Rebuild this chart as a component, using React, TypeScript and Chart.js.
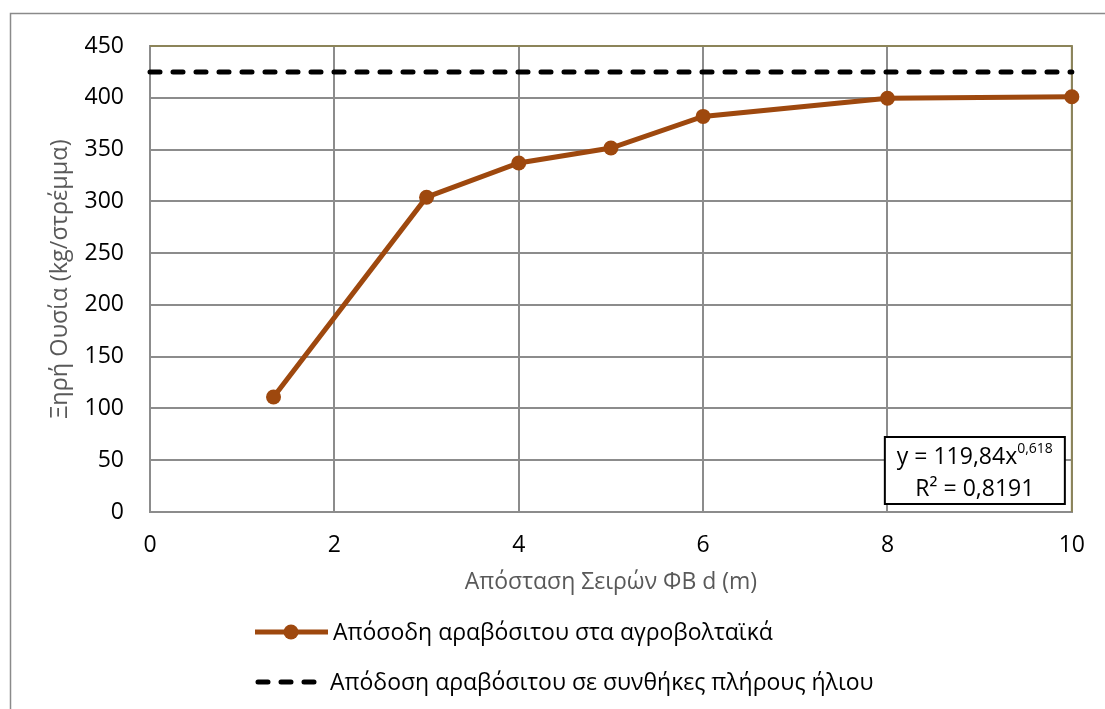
import React, { useEffect, useRef } from "react";
import { Chart, registerables } from "chart.js";

Chart.register(...registerables);

// ---- Data ----
const rowSpacing: number[] = [1.34, 3, 4, 5, 6, 8, 10];
const agrivoltaicYield: number[] = [111, 304, 337, 351.5, 382, 399.5, 401];
const fullSunX: number[] = [0, 10];
const fullSunYield: number[] = [425, 425];

const seriesLabels: string[] = [
  "Απόσοδη αραβόσιτου στα αγροβολταϊκά",
  "Απόδοση αραβόσιτου σε συνθήκες πλήρους ήλιου",
];
const xTitle = "Απόσταση Σειρών ΦΒ d (m)";
const yTitle = "Ξηρή Ουσία (kg/στρέμμα)";
const equationMain = "y = 119,84x";
const equationExp = "0,618";
const rSquared = "R² = 0,8191";

const xMin = 0, xMax = 10, xStep = 2;
const yMin = 0, yMax = 450, yStep = 50;

// ---- Styles ----
const FONT = "'Open Sans', 'Noto Sans', sans-serif";
const BROWN = "#9E480E";
const GRID = "#8c8c8c";
const OLIVE = "#8C8459";
const TITLE_COLOR = "#595959";

const outerBorder = {
  id: "outerBorder",
  beforeDraw(chart: any) {
    const { ctx, width, height } = chart;
    ctx.save();
    ctx.fillStyle = "#fff";
    ctx.fillRect(0, 0, width, height);
    ctx.strokeStyle = "#8a8a8a";
    ctx.lineWidth = 1.5;
    ctx.beginPath();
    ctx.moveTo(10.5, height + 2);
    ctx.lineTo(10.5, 13.5);
    ctx.lineTo(width + 2, 13.5);
    ctx.stroke();
    ctx.restore();
  },
};

const plotBorder = {
  id: "plotBorder",
  beforeDatasetsDraw(chart: any) {
    const { ctx, chartArea } = chart;
    ctx.save();
    ctx.strokeStyle = OLIVE;
    ctx.lineWidth = 2;
    ctx.beginPath();
    ctx.moveTo(chartArea.left, chartArea.top);
    ctx.lineTo(chartArea.right, chartArea.top);
    ctx.lineTo(chartArea.right, chartArea.bottom);
    ctx.stroke();
    ctx.restore();
  },
};

const equationBox = {
  id: "equationBox",
  afterDatasetsDraw(chart: any) {
    const { ctx, chartArea } = chart;
    const right = chartArea.right - 7;
    const left = right - 180;
    const bottom = chartArea.bottom - 8;
    const top = bottom - 67;
    ctx.save();
    ctx.fillStyle = "#fff";
    ctx.fillRect(left, top, right - left, bottom - top);
    ctx.strokeStyle = "#000";
    ctx.lineWidth = 2;
    ctx.strokeRect(left, top, right - left, bottom - top);
    const cx = (left + right) / 2;
    ctx.fillStyle = "#000";
    ctx.textBaseline = "alphabetic";
    ctx.font = `23px ${FONT}`;
    const wMain = ctx.measureText(equationMain).width;
    ctx.font = `14px ${FONT}`;
    const wExp = ctx.measureText(equationExp).width;
    const startX = cx - (wMain + wExp) / 2;
    ctx.font = `23px ${FONT}`;
    ctx.textAlign = "left";
    ctx.fillText(equationMain, startX, top + 27);
    ctx.font = `14px ${FONT}`;
    ctx.fillText(equationExp, startX + wMain, top + 16);
    ctx.font = `23px ${FONT}`;
    ctx.textAlign = "center";
    ctx.fillText(rSquared, cx, top + 59);
    ctx.restore();
  },
};

const customLegend = {
  id: "customLegend",
  afterDraw(chart: any) {
    const { ctx } = chart;
    const ds = chart.data.datasets;
    ctx.save();
    ctx.font = `23px ${FONT}`;
    ctx.textBaseline = "middle";
    ctx.textAlign = "left";
    // item 1: solid line with marker
    let y = 632;
    ctx.strokeStyle = ds[0].borderColor;
    ctx.lineWidth = 5;
    ctx.beginPath();
    ctx.moveTo(255, y);
    ctx.lineTo(328, y);
    ctx.stroke();
    ctx.fillStyle = ds[0].borderColor;
    ctx.beginPath();
    ctx.arc(291, y, 7.5, 0, Math.PI * 2);
    ctx.fill();
    ctx.fillStyle = "#000";
    ctx.fillText(ds[0].label, 333, y + 1);
    // item 2: dashed line
    y = 682;
    ctx.strokeStyle = ds[1].borderColor;
    ctx.lineWidth = 5;
    ctx.lineCap = "round";
    ctx.setLineDash([10, 13]);
    ctx.beginPath();
    ctx.moveTo(258, y);
    ctx.lineTo(318, y);
    ctx.stroke();
    ctx.setLineDash([]);
    ctx.fillStyle = "#000";
    ctx.fillText(ds[1].label, 330, y + 1);
    ctx.restore();
  },
};

export default function App() {
  const canvasRef = useRef<HTMLCanvasElement | null>(null);

  useEffect(() => {
    if (!canvasRef.current) return;
    const chart = new Chart(canvasRef.current, {
      type: "line",
      data: {
        datasets: [
          {
            label: seriesLabels[0],
            data: rowSpacing.map((x, i) => ({ x, y: agrivoltaicYield[i] })),
            borderColor: BROWN,
            backgroundColor: BROWN,
            borderWidth: 5,
            pointRadius: 7.5,
            pointBackgroundColor: BROWN,
            pointBorderWidth: 0,
            tension: 0,
            clip: false as any,
          },
          {
            label: seriesLabels[1],
            data: fullSunX.map((x, i) => ({ x, y: fullSunYield[i] })),
            borderColor: "#000",
            backgroundColor: "#000",
            borderWidth: 5,
            borderDash: [10, 13],
            borderCapStyle: "round",
            pointRadius: 0,
            tension: 0,
            clip: false as any,
          },
        ],
      },
      options: {
        responsive: false,
        animation: false,
        layout: { padding: { left: 0, top: 46, right: 27, bottom: 97 } },
        plugins: {
          legend: { display: false },
          tooltip: { enabled: false },
          title: { display: false },
        },
        scales: {
          x: {
            type: "linear",
            min: xMin,
            max: xMax,
            ticks: {
              stepSize: xStep,
              padding: 20,
              color: "#000",
              font: { family: FONT, size: 23 },
              maxRotation: 0,
            },
            grid: { color: GRID, lineWidth: 2, drawTicks: false },
            border: { display: true, color: GRID, width: 2 },
            title: {
              display: true,
              text: xTitle,
              color: TITLE_COLOR,
              font: { family: FONT, size: 23 },
              padding: { top: 0, bottom: 16 },
            },
            afterFit(scale: any) {
              scale.height = 100;
            },
          },
          y: {
            type: "linear",
            min: yMin,
            max: yMax,
            ticks: {
              stepSize: yStep,
              padding: 26,
              color: "#000",
              font: { family: FONT, size: 23 },
            },
            grid: { color: GRID, lineWidth: 2, drawTicks: false },
            border: { display: true, color: GRID, width: 2 },
            title: {
              display: true,
              text: yTitle,
              color: TITLE_COLOR,
              font: { family: FONT, size: 23.5 },
              padding: { top: 46, bottom: 0 },
            },
            afterFit(scale: any) {
              scale.width = 150;
            },
          },
        },
      },
      plugins: [outerBorder, plotBorder, equationBox, customLegend],
    });
    return () => chart.destroy();
  }, []);

  return (
    <div style={{ position: "absolute", left: 0, top: 0, width: 1105, height: 709, background: "#fff" }}>
      <canvas ref={canvasRef} width={1105} height={709} />
    </div>
  );
}
